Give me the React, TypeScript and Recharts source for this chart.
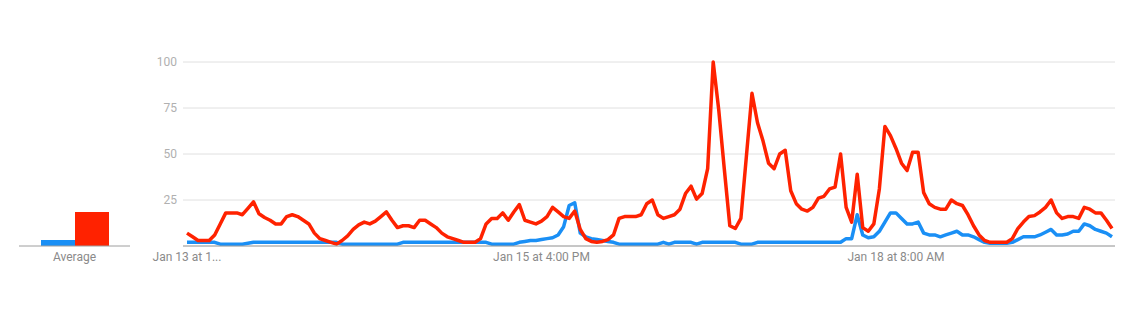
import { LineChart, Line, BarChart, Bar, XAxis, YAxis, CartesianGrid } from 'recharts';

// hourly interest, one value per hour starting Jan 13
const blueValues = [
  2, 2, 2, 2, 2, 2, 1, 1, 1, 1, 1, 1.5, 2, 2, 2, 2, 2, 2, 2, 2,
  2, 2, 2, 2, 2, 2, 2, 2, 1, 1, 1, 1, 1, 1, 1, 1, 1, 1, 1, 2,
  2, 2, 2, 2, 2, 2, 2, 2, 2, 2, 2, 2, 2, 2, 2, 1, 1, 1, 1, 1,
  2, 2.5, 3, 3, 3.5, 4, 4.5, 6, 10.5, 22, 23.5, 7, 5, 4, 3.5, 3, 2.5, 2, 1, 1,
  1, 1, 1, 1, 1, 1, 2, 1, 2, 2, 2, 2, 1, 2, 2, 2, 2, 2, 2, 2,
  1, 1, 1, 2, 2, 2, 2, 2, 2, 2, 2, 2, 2, 2, 2, 2, 2, 2, 2, 4,
  4, 17, 6, 4.5, 5, 8, 13, 18, 18, 15, 12, 12, 13, 7, 6, 6, 5, 6, 7, 8,
  6, 6, 5, 3.5, 2, 1.5, 1.5, 1.5, 1.5, 2, 3.5, 5, 5, 5, 6, 7.5, 9, 6, 6, 6.5,
  8, 8, 12, 11, 9, 8, 7, 5,
];

const redValues = [
  7, 5, 3, 3, 3, 6, 12, 18, 18, 18, 17, 20.5, 24, 17.5, 15.5, 14, 12, 12, 16, 17,
  16, 14, 12, 7, 4, 3, 2, 1, 3, 5.5, 9, 11.5, 13, 12, 13.5, 16, 18.5, 14, 10, 11,
  11, 10, 14, 14, 12, 10, 7, 5, 4, 3, 2, 2, 2, 4, 12, 15, 15, 18, 14, 18.5,
  22.5, 14, 13, 12, 13.5, 16, 21, 18.5, 16, 15, 19, 9, 4, 2.5, 2, 2.5, 3.5, 6, 15, 16,
  16, 16, 17, 23, 25, 17, 15, 16, 17, 20, 28.5, 32.5, 25.5, 28.5, 42, 100, 74, 42, 11, 9.5,
  15, 49, 83, 67, 57, 45, 42, 50, 52, 30, 23, 20, 19, 21, 26, 27, 31, 32, 50, 21,
  13, 39, 10, 8, 12, 31, 65, 60, 53, 45, 41, 51, 51, 29, 23, 21, 20, 20, 25, 23,
  22, 17, 11, 6, 3, 2, 2, 2, 2, 4, 9.5, 13, 16, 16.5, 18.5, 21, 25, 18, 15, 16,
  16, 15, 21, 20, 18, 18, 14, 9.5,
];

const tickIndex = [0, 64, 128];
const tickLabels = ['Jan 13 at 1...', 'Jan 15 at 4:00 PM', 'Jan 18 at 8:00 AM'];
const yTicks = [25, 50, 75, 100];

const averageNames = ['Average'];
const averageBlue = [3.3];
const averageRed = [18.5];

const BLUE = '#1a8ff5';
const RED = '#ff2200';
const FONT = 'Roboto, Arial, sans-serif';

const seriesData = redValues.map((red, i) => ({ i, blue: blueValues[i], red }));
const averageData = averageNames.map((name, k) => ({ name, blue: averageBlue[k], red: averageRed[k] }));

const labelFor = (v: number) => tickLabels[tickIndex.indexOf(v)] ?? '';

export default function App() {
  return (
    <div style={{ position: 'absolute', left: 0, top: 0, width: 1144, height: 330, background: '#fff', fontFamily: FONT }}>
      <div style={{ position: 'absolute', left: 0, top: 0 }}>
        <BarChart width={140} height={330} data={averageData} margin={{ top: 62, right: 10, bottom: 54, left: 19 }} barGap={0}>
          <YAxis hide domain={[0, 100]} />
          <XAxis
            dataKey="name"
            axisLine={{ stroke: '#9e9e9e' }}
            tickLine={false}
            tickSize={0}
            tickMargin={6}
            height={30}
            tick={{ fill: '#8a8a8a', fontSize: 12, fontFamily: FONT }}
          />
          <Bar dataKey="blue" fill={BLUE} barSize={34} isAnimationActive={false} />
          <Bar dataKey="red" fill={RED} barSize={34} isAnimationActive={false} />
        </BarChart>
      </div>
      <div style={{ position: 'absolute', left: 0, top: 0 }}>
        <LineChart width={1144} height={330} data={seriesData} margin={{ top: 62, right: 29, bottom: 54, left: 143 }}>
          <CartesianGrid horizontal vertical={false} stroke="#e0e0e0" />
          <XAxis
            dataKey="i"
            type="number"
            domain={[0, 167]}
            ticks={tickIndex}
            tickFormatter={labelFor}
            padding={{ left: 4, right: 3 }}
            axisLine={{ stroke: '#9e9e9e' }}
            tickLine={false}
            tickSize={0}
            tickMargin={6}
            height={30}
            interval={0}
            tick={{ fill: '#8a8a8a', fontSize: 12, fontFamily: FONT }}
          />
          <YAxis
            domain={[0, 100]}
            ticks={yTicks}
            width={40}
            axisLine={false}
            tickLine={false}
            tickSize={0}
            tickMargin={6}
            tick={{ fill: '#b0b0b0', fontSize: 12, fontFamily: FONT }}
          />
          <Line type="linear" dataKey="blue" stroke={BLUE} strokeWidth={3.5} dot={false} strokeLinejoin="round" isAnimationActive={false} />
          <Line type="linear" dataKey="red" stroke={RED} strokeWidth={3.5} dot={false} strokeLinejoin="round" isAnimationActive={false} />
        </LineChart>
      </div>
    </div>
  );
}
